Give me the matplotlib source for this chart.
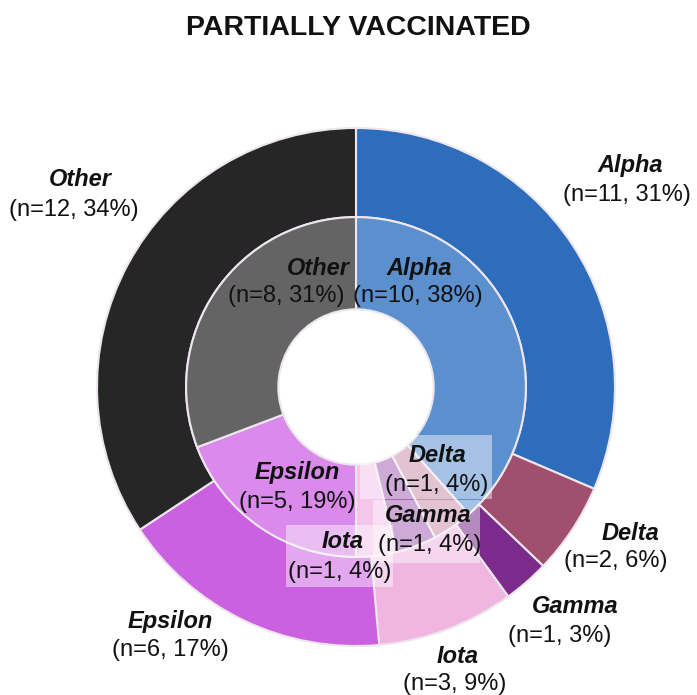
import numpy as np
import matplotlib
matplotlib.use("Agg")
from matplotlib import pyplot as plt
from matplotlib.patches import Rectangle

plt.rcParams['font.family'] = ['Liberation Sans', 'DejaVu Sans']

# data
variants = ['Alpha', 'Delta', 'Gamma', 'Iota', 'Epsilon', 'Other']
outer_n = [11, 2, 1, 3, 6, 12]
outer_pct = [31, 6, 3, 9, 17, 34]
inner_n = [10, 1, 1, 1, 5, 8]
inner_pct = [38, 4, 4, 4, 19, 31]

outer_colors = ['#2E6DBB', '#A0506D', '#7A2B8B', '#F0B6E1', '#CB60E1', '#262626']
inner_colors = ['#5C8FCD', '#C992AD', '#A765B8', '#F4C6EA', '#D98AEA', '#646464']

# label layout (pie radius = 1), name / count positions
outer_name_xy = [(1.058, 0.857), (1.058, -0.564), (0.846, -0.849),
                 (0.394, -1.039), (-0.718, -0.907), (-1.066, 0.803)]
outer_cnt_xy = [(1.046, 0.741), (1.004, -0.672), (0.788, -0.961),
                (0.382, -1.147), (-0.718, -1.015), (-1.089, 0.683)]
inner_name_xy = [(0.243, 0.459), (0.313, -0.263), (0.278, -0.498),
                 (-0.050, -0.598), (-0.228, -0.332), (-0.147, 0.459)]
inner_cnt_xy = [(0.240, 0.351), (0.313, -0.378), (0.286, -0.610),
                (-0.062, -0.714), (-0.228, -0.444), (-0.268, 0.351)]
# white boxes behind the small inner labels: (x0, x1, y0, y1)
boxes = {'Delta': (0.015, 0.525, -0.432, -0.185),
         'Gamma': (0.066, 0.479, -0.680, -0.436),
         'Iota': (-0.270, 0.143, -0.772, -0.533)}

W, H = 697, 695
R = 259.0
cx, cy = 356, 387

fig = plt.figure(figsize=(W / 100, H / 100), dpi=100)
ax = fig.add_axes([0, 0, 1, 1])
ax.axis('off')

ax.pie(outer_n, radius=1.0, colors=outer_colors, startangle=90, counterclock=False,
       wedgeprops=dict(width=0.344, edgecolor='#EDE6EE', linewidth=1.5))
ax.pie(inner_n, radius=0.656, colors=inner_colors, startangle=90, counterclock=False,
       wedgeprops=dict(width=0.356, edgecolor='#EDE6EE', linewidth=1.5))
ax.set_xlim(-cx / R, (W - cx) / R)
ax.set_ylim(-(H - cy) / R, cy / R)
ax.set_aspect('auto')

for name, (x0, x1, y0, y1) in boxes.items():
    ax.add_patch(Rectangle((x0, y0), x1 - x0, y1 - y0, facecolor='white',
                           alpha=0.45, edgecolor='none', zorder=3))

fs = 17
for i, v in enumerate(variants):
    x, y = outer_name_xy[i]
    ax.text(x, y, v, ha='center', va='center', fontsize=fs, fontweight='bold',
            fontstyle='italic', color='#111111', zorder=5)
    x, y = outer_cnt_xy[i]
    ax.text(x, y, '(n=%d, %d%%)' % (outer_n[i], outer_pct[i]), ha='center',
            va='center', fontsize=fs, color='#111111', zorder=5)
    x, y = inner_name_xy[i]
    ax.text(x, y, v, ha='center', va='center', fontsize=fs, fontweight='bold',
            fontstyle='italic', color='#111111', zorder=5)
    x, y = inner_cnt_xy[i]
    ax.text(x, y, '(n=%d, %d%%)' % (inner_n[i], inner_pct[i]), ha='center',
            va='center', fontsize=fs, color='#111111', zorder=5)

fig.text(358 / W, 1 - 28 / H, 'PARTIALLY VACCINATED', ha='center', va='center',
         fontsize=20.5, fontweight='bold', color='#111111')

fig.savefig('out.png', dpi=100)
